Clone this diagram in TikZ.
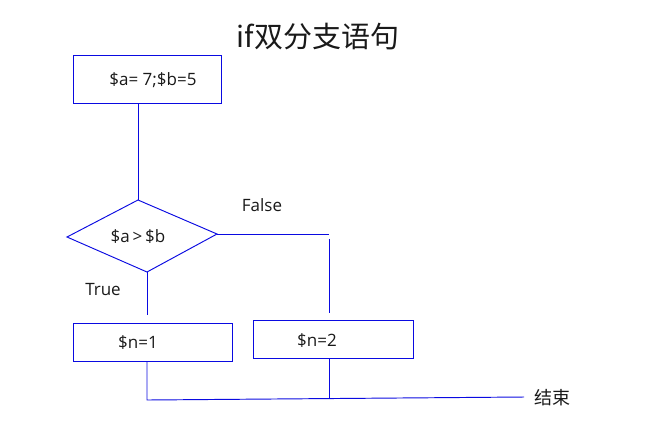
\documentclass[tikz,border=0pt]{standalone}
\usepackage{fontspec}
\setmainfont{Open Sans}
\newfontfamily\cjk{Noto Sans CJK SC}
\usetikzlibrary{calc}
\definecolor{flowblue}{RGB}{10,10,225}
\definecolor{ink}{RGB}{25,25,25}
\begin{document}
\begin{tikzpicture}[x=1pt,y=-1pt,
  wire/.style={draw=flowblue, line width=0.95pt},
  box/.style={wire, inner sep=0pt},
  lbl/.style={text=ink, font=\fontsize{17}{19}\selectfont, inner sep=0pt}]
\useasboundingbox (0,0) rectangle (660,440);

% title
\node[text=ink, font=\cjk\fontsize{29}{32}\selectfont, inner sep=0pt] (title) at (318,37) {if双分支语句};

% assignment box
\node[box, minimum width=148pt, minimum height=48pt] (init) at (147,79) {};
\node[lbl] (initlbl) at (153,80) {\$a= 7;\$b=5};

% decision
\coordinate (dt) at (138,200);
\coordinate (dr) at (217,234);
\coordinate (db) at (147,272);
\coordinate (dl) at (67,237);
\draw[wire] (dt) -- (dr) -- (db) -- (dl) -- cycle;
\node[lbl] (cond) at (138,237) {\$a\,>\,\$b};

% branch boxes
\node[box, minimum width=159pt, minimum height=38pt] (yes) at (152.5,342) {};
\node[lbl] (yeslbl) at (138,343) {\$n=1};
\node[box, minimum width=160pt, minimum height=38pt] (no) at (333,339) {};
\node[lbl] (nolbl) at (317,341) {\$n=2};

% branch labels
\node[lbl] (flbl) at (262,205) {False};
\node[lbl] (tlbl) at (103,290) {True};

% end label
\node[text=ink, font=\cjk\fontsize{18}{20}\selectfont, inner sep=0pt, anchor=west] (fin) at (534,398) {结束};

% connectors
\coordinate (tend) at (147,315);
\coordinate (fcorner) at (329,234);
\coordinate (ftop) at (329,239);
\coordinate (fend) at (329,313);
\coordinate (ja) at (147,400);
\coordinate (jb) at (329,398);
\coordinate (jend) at (524,397);

\draw[wire] (dt |- init.south) -- (dt);
\draw[wire] (dr) -- (fcorner);
\draw[wire] (ftop) -- (fend);
\draw[wire] (db) -- (tend);
\draw[wire] (ja |- yes.south) -- (ja) -- (jend);
\draw[wire] (jb |- no.south) -- (jb);
\end{tikzpicture}
\end{document}
